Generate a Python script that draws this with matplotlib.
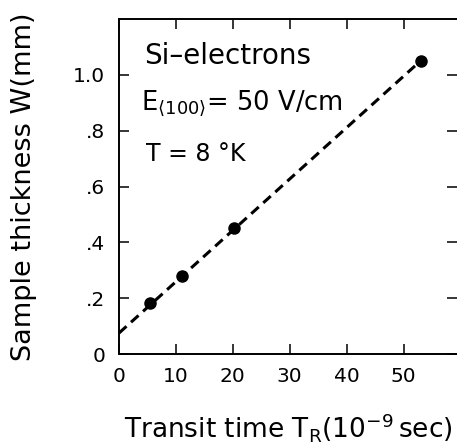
import matplotlib.pyplot as plt
import numpy as np

# measured points: transit time (ns) vs sample thickness (mm)
t_r = [5.5, 11.1, 20.2, 53.0]
w = [0.183, 0.28, 0.45, 1.05]

# straight line through the points, read at its two ends
fit_t = [0.0, 53.0]
fit_w = [0.075, 1.05]

x_ticks = [0, 10, 20, 30, 40, 50]
y_ticks = [0, 0.2, 0.4, 0.6, 0.8, 1.0]
y_tick_labels = ['0', '.2', '.4', '.6', '.8', '1.0']

plt.rcParams['font.family'] = ['DejaVu Sans']
plt.rcParams['mathtext.fontset'] = 'dejavusans'

fig = plt.figure(figsize=(4.57, 4.47), dpi=100)
ax = fig.add_axes([119 / 457, 93 / 447, 338 / 457, 335 / 447])

ax.plot(fit_t, fit_w, color='black', linestyle=(0, (3.3, 2.0)), linewidth=2.2)
ax.plot(t_r, w, 'o', color='black', markersize=8)

ax.set_xlim(0, 59.4)
ax.set_ylim(0, 1.2)
ax.set_xticks(x_ticks)
ax.set_yticks(y_ticks)
ax.set_yticklabels(y_tick_labels)

ax.tick_params(direction='in', length=7, width=1.1, labelsize=14.5,
               top=True, right=True)
ax.tick_params(axis='y', pad=10)
ax.tick_params(axis='x', pad=9)
ax.spines['right'].set_visible(False)
for s in ['left', 'bottom', 'top']:
    ax.spines[s].set_linewidth(1.4)

ax.set_xlabel(r'Transit time $\mathregular{T_R(10^{-9}\,sec)}$', fontsize=19, labelpad=18)
ax.set_ylabel('Sample thickness W(mm)', fontsize=19.5, labelpad=26)

ax.text(4.4, 1.04, 'Si\u2013electrons', fontsize=20, va='baseline')
ax.text(3.9, 0.875, r'$\mathregular{E_{\langle100\rangle}}$= 50 V/cm', fontsize=18.5, va='baseline')
ax.text(4.8, 0.69, 'T = 8 \u00b0K', fontsize=17, va='baseline')

plt.savefig('out.png', dpi=100)
